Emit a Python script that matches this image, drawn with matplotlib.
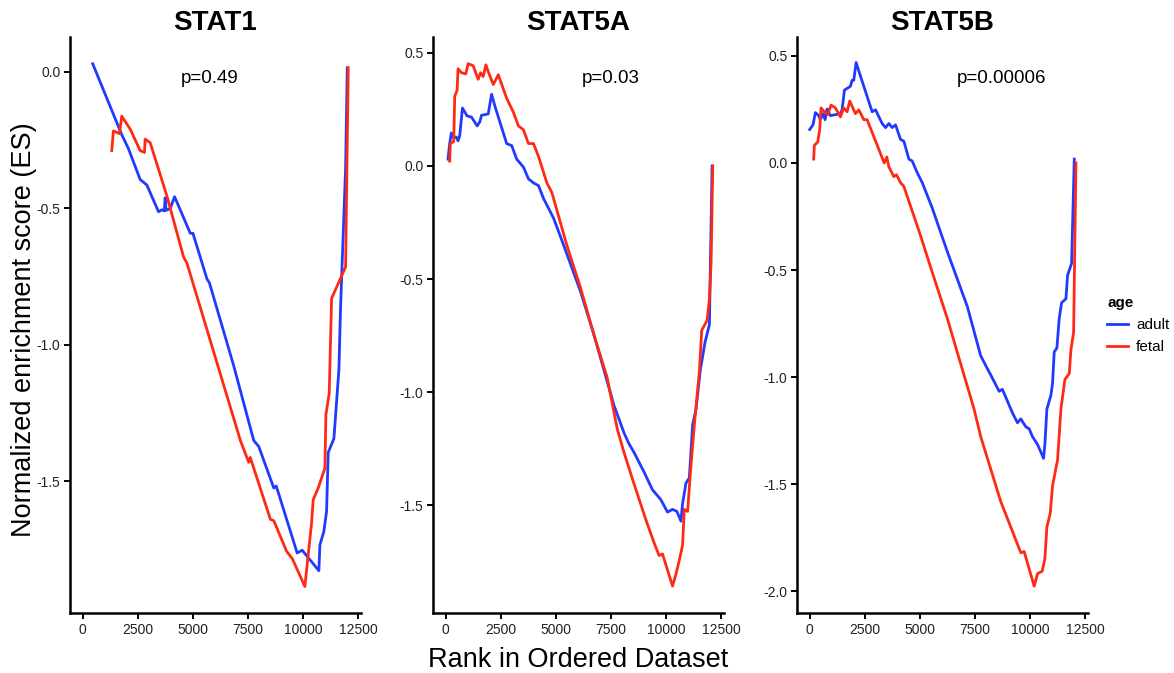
import matplotlib
matplotlib.use("Agg")
import matplotlib.pyplot as plt

plt.rcParams["font.family"] = ["Liberation Sans", "DejaVu Sans"]
plt.rcParams["axes.unicode_minus"] = False

# ---- running enrichment scores per gene set ----
stat1_adult_rank = [455, 1773, 2076, 2606, 2909, 3439, 3591, 3700, 3742, 3780, 3970, 4167, 4424,
                    4879, 5000, 5636, 5750, 6848, 7758, 7985, 8667, 8780, 9727, 9955, 10712,
                    10758, 10939, 11061, 11136, 11394, 11621, 11697, 11924, 12000]
stat1_adult_es = [0.029, -0.231, -0.282, -0.395, -0.415, -0.513, -0.506, -0.510, -0.462, -0.508,
                  -0.501, -0.458, -0.506, -0.592, -0.592, -0.759, -0.774, -1.077, -1.351, -1.373,
                  -1.525, -1.518, -1.763, -1.753, -1.828, -1.734, -1.684, -1.611, -1.395, -1.344,
                  -1.091, -0.860, -0.354, 0.014]
stat1_fetal_rank = [1318, 1394, 1667, 1773, 2152, 2606, 2803, 2833, 3061, 3818, 4576, 4727,
                    7152, 7530, 7600, 8515, 8670, 9242, 9515, 10076, 10379, 10455, 10682,
                    10985, 11030, 11182, 11288, 11924, 12045]
stat1_fetal_es = [-0.289, -0.217, -0.227, -0.163, -0.210, -0.289, -0.296, -0.247, -0.260, -0.455,
                  -0.679, -0.701, -1.351, -1.431, -1.413, -1.640, -1.645, -1.756, -1.785, -1.886,
                  -1.655, -1.568, -1.525, -1.452, -1.257, -1.178, -0.831, -0.715, 0.014]

stat5a_adult_rank = [106, 182, 258, 365, 480, 562, 638, 760, 973, 1170, 1429, 1550, 1626, 1930,
                     2082, 2234, 2766, 2994, 3222, 3526, 3754, 3982, 4210, 4438, 4894, 5198,
                     6109, 6717, 7325, 7629, 8085, 8313, 8541, 8997, 9377, 9757, 10061, 10289,
                     10486, 10669, 10745, 10897, 11049, 11201, 11353, 11550, 11763, 11961,
                     12006, 12082]
stat5a_adult_es = [0.030, 0.099, 0.146, 0.125, 0.128, 0.111, 0.134, 0.256, 0.221, 0.216, 0.177,
                   0.195, 0.224, 0.230, 0.317, 0.264, 0.099, 0.090, 0.030, -0.005, -0.057,
                   -0.075, -0.087, -0.144, -0.231, -0.310, -0.553, -0.744, -0.953, -1.057,
                   -1.179, -1.228, -1.266, -1.353, -1.431, -1.475, -1.530, -1.518, -1.527,
                   -1.570, -1.492, -1.402, -1.379, -1.144, -1.075, -0.901, -0.779, -0.701,
                   -0.431, 0.000]
stat5a_fetal_rank = [182, 212, 365, 410, 517, 562, 714, 912, 1018, 1246, 1474, 1581, 1700, 1824,
                     1930, 2158, 2386, 2766, 3070, 3298, 3526, 3754, 3982, 4210, 4590, 4818,
                     5502, 6109, 6717, 7325, 7781, 8085, 8541, 9073, 9453, 9681, 9833, 10289,
                     10441, 10593, 10745, 10821, 10973, 11094, 11277, 11505, 11611, 11854,
                     11961, 12036, 12112]
stat5a_fetal_es = [0.021, 0.099, 0.108, 0.308, 0.334, 0.430, 0.412, 0.407, 0.452, 0.443, 0.383,
                   0.412, 0.395, 0.447, 0.417, 0.360, 0.403, 0.299, 0.238, 0.177, 0.160, 0.099,
                   0.099, 0.042, -0.075, -0.118, -0.353, -0.536, -0.744, -0.936, -1.162,
                   -1.266, -1.405, -1.562, -1.666, -1.722, -1.715, -1.857, -1.805, -1.744,
                   -1.675, -1.518, -1.527, -1.362, -1.144, -0.910, -0.727, -0.683, -0.588,
                   -0.431, 0.000]

stat5b_adult_rank = [0, 152, 258, 409, 485, 606, 700, 788, 939, 1394, 1470, 1576, 1848, 1924,
                     2000, 2106, 2220, 2833, 2985, 3288, 3439, 3591, 3742, 3894, 4121, 4273,
                     4500, 4652, 4879, 5106, 5561, 6242, 7152, 7758, 8364, 8591, 8742, 9197,
                     9424, 9576, 9803, 9955, 10106, 10333, 10606, 10667, 10758, 10939, 11015,
                     11091, 11212, 11318, 11424, 11621, 11697, 11879, 12000]
stat5b_adult_es = [0.156, 0.178, 0.235, 0.221, 0.202, 0.230, 0.202, 0.252, 0.221, 0.230, 0.248,
                   0.340, 0.358, 0.386, 0.386, 0.469, 0.432, 0.239, 0.248, 0.184, 0.165, 0.184,
                   0.165, 0.178, 0.110, 0.101, 0.018, 0.009, -0.046, -0.092, -0.211, -0.414,
                   -0.671, -0.901, -1.020, -1.066, -1.057, -1.167, -1.213, -1.195, -1.232,
                   -1.241, -1.278, -1.314, -1.379, -1.314, -1.149, -1.085, -1.029, -0.882,
                   -0.864, -0.726, -0.653, -0.634, -0.524, -0.469, 0.018]
stat5b_fetal_rank = [182, 212, 364, 455, 515, 667, 818, 970, 1167, 1394, 1545, 1697, 1818, 2076,
                     2227, 2455, 2606, 3379, 3500, 3591, 3818, 3939, 4121, 4273, 4576, 5030,
                     5485, 6242, 7455, 7758, 8667, 9121, 9576, 9727, 10182, 10333, 10545,
                     10667, 10758, 10909, 11015, 11167, 11242, 11394, 11576, 11773, 11848,
                     11970, 12076]
stat5b_fetal_es = [0.018, 0.083, 0.097, 0.156, 0.257, 0.239, 0.226, 0.270, 0.257, 0.215, 0.257,
                   0.239, 0.289, 0.230, 0.248, 0.202, 0.202, 0.000, 0.028, -0.018, -0.064,
                   -0.055, -0.092, -0.110, -0.202, -0.340, -0.487, -0.726, -1.149, -1.278,
                   -1.581, -1.700, -1.820, -1.814, -1.976, -1.917, -1.906, -1.847, -1.700,
                   -1.636, -1.507, -1.425, -1.388, -1.149, -1.011, -0.983, -0.873, -0.790,
                   0.000]

gene_sets = ["STAT1", "STAT5A", "STAT5B"]
p_labels = ["p=0.49", "p=0.03", "p=0.00006"]
p_label_rank = [5770, 7500, 8710]
y_limits = [(-1.983, 0.127), (-1.976, 0.570), (-2.101, 0.588)]
y_ticks = [[0.0, -0.5, -1.0, -1.5],
           [0.5, 0.0, -0.5, -1.0, -1.5],
           [0.5, 0.0, -0.5, -1.0, -1.5, -2.0]]
x_ticks = [0, 2500, 5000, 7500, 10000, 12500]
x_limits = (-575, 12600)

curves = [
    (stat1_adult_rank, stat1_adult_es, stat1_fetal_rank, stat1_fetal_es),
    (stat5a_adult_rank, stat5a_adult_es, stat5a_fetal_rank, stat5a_fetal_es),
    (stat5b_adult_rank, stat5b_adult_es, stat5b_fetal_rank, stat5b_fetal_es),
]

ADULT = "#1f3bff"
FETAL = "#ff2a14"
W, H = 1174, 673

fig = plt.figure(figsize=(W / 100, H / 100), dpi=100)
fig.patch.set_facecolor("white")

panel_left_px = [70, 433, 797]
panel_width_px = 290.5
top_px, bottom_px = 37, 613

for i, (ar, ae, fr, fe) in enumerate(curves):
    ax = fig.add_axes([panel_left_px[i] / W, (H - bottom_px) / H,
                       panel_width_px / W, (bottom_px - top_px) / H])
    ax.plot(ar, ae, color=ADULT, lw=2.0, solid_joinstyle="round", label="adult")
    ax.plot(fr, fe, color=FETAL, lw=2.0, solid_joinstyle="round", label="fetal")
    ax.set_xlim(*x_limits)
    ax.set_ylim(*y_limits[i])
    ax.set_xticks(x_ticks)
    ax.set_xticklabels([str(t) for t in x_ticks])
    ax.set_yticks(y_ticks[i])
    ax.set_yticklabels([f"{t:.1f}" for t in y_ticks[i]])
    for side in ("top", "right"):
        ax.spines[side].set_visible(False)
    for side in ("left", "bottom"):
        ax.spines[side].set_linewidth(1.8)
        ax.spines[side].set_color("black")
    ax.tick_params(axis="both", length=4, width=1.4, color="black",
                   labelsize=10, labelcolor="#222222", pad=3)
    ax.set_title(gene_sets[i], fontsize=20, fontweight="bold", pad=5)
    ax.text(p_label_rank[i], 0.928, p_labels[i], transform=ax.get_xaxis_transform(),
            ha="center", va="center", fontsize=13.5, color="black")
    if i == 2:
        leg = ax.legend(title="age", loc="center left", bbox_to_anchor=(1.02, 0.5),
                        frameon=False, fontsize=11, title_fontsize=11,
                        handlelength=1.4, handletextpad=0.5, labelspacing=0.55,
                        alignment="left")
        leg.get_title().set_fontweight("bold")

fig.text(578 / W, 1 - 660 / H, "Rank in Ordered Dataset", ha="center", va="center",
         fontsize=19.5)
fig.text(24 / W, 1 - 330 / H, "Normalized enrichment score (ES)", ha="center",
         va="center", rotation=90, fontsize=19.5)

fig.savefig("out.png", dpi=100)
